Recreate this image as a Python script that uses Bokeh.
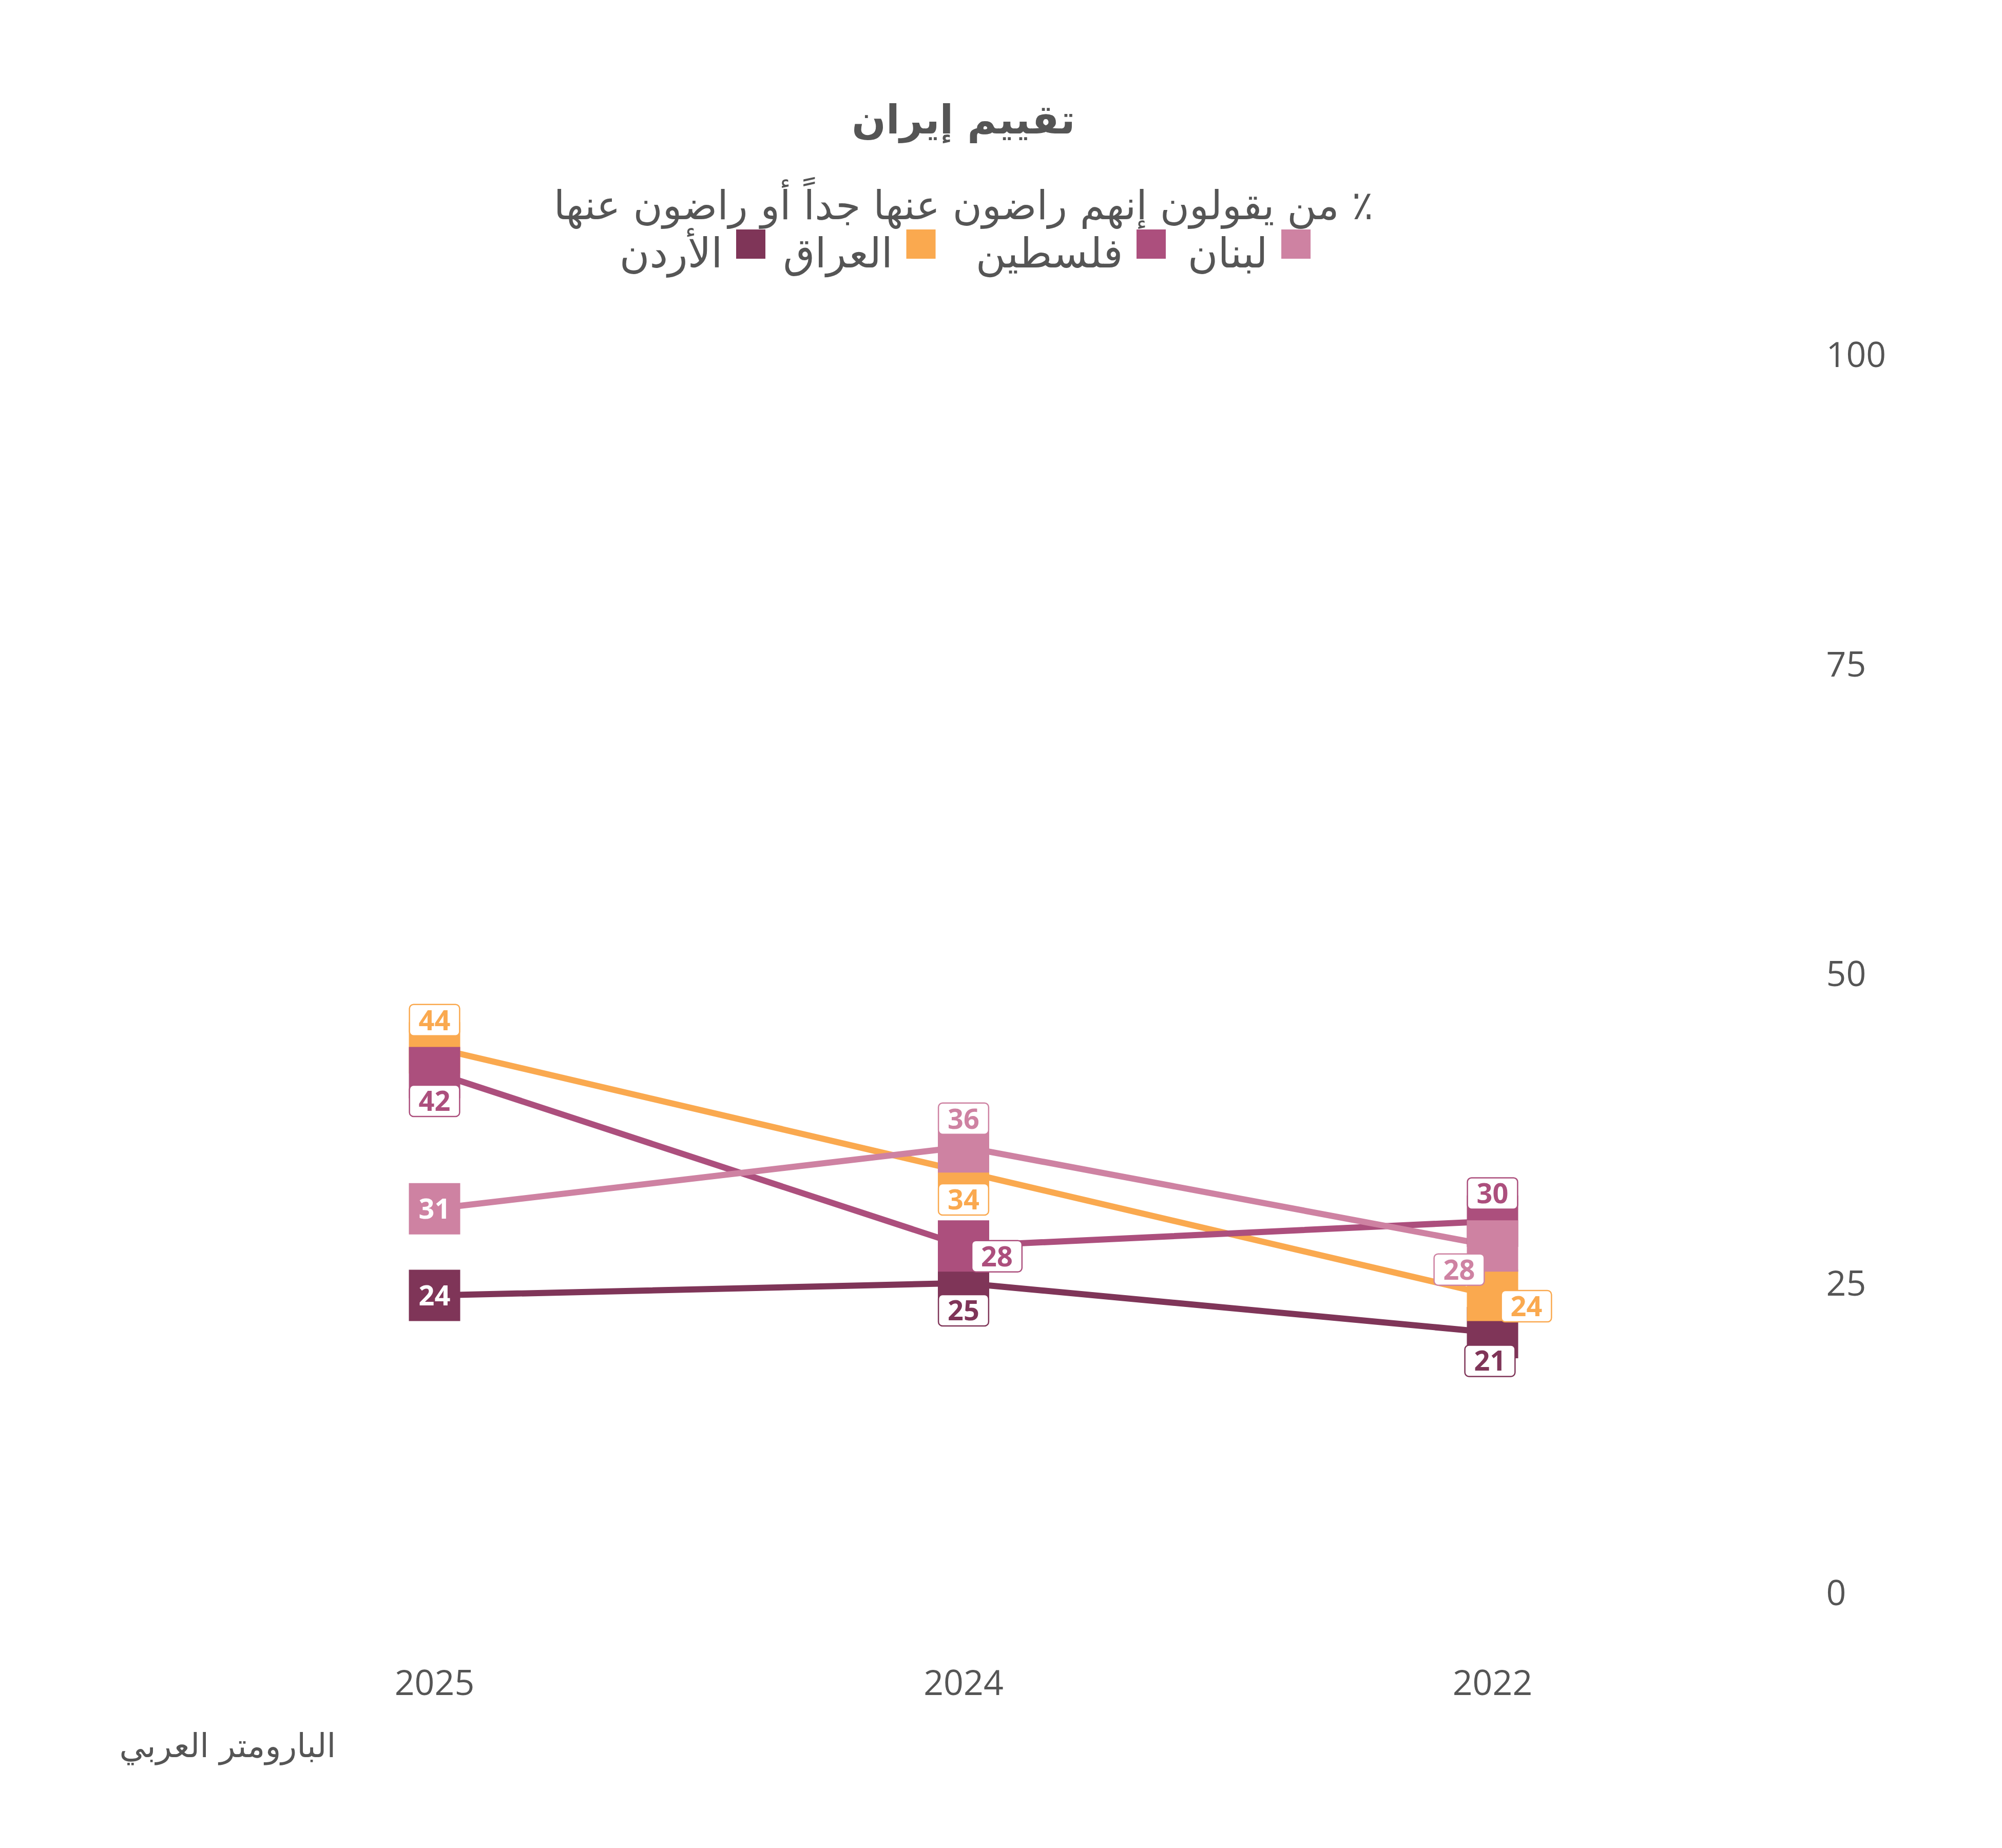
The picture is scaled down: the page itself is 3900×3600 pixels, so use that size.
from bokeh.plotting import figure
from bokeh.models import Range1d, FixedTicker, LinearAxis, Title, ColumnDataSource
from bokeh.core.properties import value
from bokeh.embed import file_html
from bokeh.resources import INLINE

# ---------------- data ----------------
years = ["2025", "2024", "2022"]
countries = ["الأردن", "العراق", "فلسطين", "لبنان"]
jordan = [24, 25, 21]
iraq = [44, 34, 24]
palestine = [42, 28, 30]
lebanon = [31, 36, 28]
y_ticks = [0, 25, 50, 75, 100]

title_text = "تقييم إيران"
subtitle_text = "\u200f٪ من يقولون إنهم راضون عنها جداً أو راضون عنها"
source_text = "البارومتر العربي"

# ---------------- styles ----------------
colors = ["#7F3558", "#FAA94F", "#AC4F7D", "#CE82A2"]
values_by_series = [jordan, iraq, palestine, lebanon]
# label placement (screen px offsets) and whether label sits inside the marker
label_dx = [[0, 0, -5], [0, 0, 66], [0, 65, 0], [0, 0, -65]]
label_dy = [[0, 53, 55], [-54, 54, 21], [55, 20, -54], [0, -55, 46]]
label_inside = [[True, False, False], [False, False, False],
                [False, False, False], [True, False, False]]
legend_pos = [0.5978, 0.9195, 1.3547, 1.6284]

GREY = "#555555"
AR_FONT = "DejaVu Sans"
NUM_FONT = "Open Sans"

W, H = 3884, 3584
p = figure(width=W, height=H, output_backend="svg", toolbar_location=None,
           x_range=Range1d(-0.82096, 2.57545), y_range=Range1d(-4.063, 128.607),
           min_border_left=0, min_border_top=0, min_border_right=384,
           min_border_bottom=384, x_axis_location=None, y_axis_location=None,
           background_fill_color="white", border_fill_color="white")
p.outline_line_color = None
p.grid.visible = False

xaxis = LinearAxis(ticker=FixedTicker(ticks=list(range(len(years)))),
                   major_label_overrides={i: y for i, y in enumerate(years)})
yaxis = LinearAxis(ticker=FixedTicker(ticks=y_ticks))
for ax in (xaxis, yaxis):
    ax.axis_line_color = None
    ax.major_tick_line_color = None
    ax.minor_tick_line_color = None
    ax.major_tick_out = 0
    ax.major_tick_in = 0
    ax.major_label_text_font = NUM_FONT
    ax.major_label_text_font_size = "68px"
    ax.major_label_text_color = GREY
xaxis.major_label_standoff = 52
yaxis.major_label_standoff = 57
p.add_layout(xaxis, "below")
p.add_layout(yaxis, "right")

src_title = Title(text=source_text, align="left", offset=232,
                  text_font=AR_FONT, text_font_size="64px",
                  text_font_style="normal", text_color=GREY, standoff=115)
p.add_layout(src_title, "below")

xs = list(range(len(years)))

# lines
for vals, c in zip(values_by_series, colors):
    p.line(xs, vals, line_color=c, line_width=12)

# square markers
for vals, c in zip(values_by_series, colors):
    p.scatter(xs, vals, marker="square", size=100, fill_color=c, line_color=None)

# data labels
box = dict(x=[], y=[], t=[], c=[], dx=[], dy=[])
ins = dict(x=[], y=[], t=[])
for s, (vals, c) in enumerate(zip(values_by_series, colors)):
    for i, v in enumerate(vals):
        if label_inside[s][i]:
            ins["x"].append(xs[i]); ins["y"].append(v); ins["t"].append(str(v))
        else:
            box["x"].append(xs[i]); box["y"].append(v); box["t"].append(str(v))
            box["c"].append(c); box["dx"].append(label_dx[s][i]); box["dy"].append(label_dy[s][i])

p.text(x="x", y="y", text="t", source=ColumnDataSource(box),
       x_offset="dx", y_offset="dy", text_color="c",
       text_font=value(NUM_FONT), text_font_style="bold", text_font_size="54px",
       text_align="center", text_baseline="middle",
       background_fill_color="white", border_line_color="c",
       border_line_width=2.5, border_radius=8, padding=(18, 11))
p.text(x="x", y="y", text="t", source=ColumnDataSource(ins),
       text_color="white", text_font=value(NUM_FONT), text_font_style="bold",
       text_font_size="54px", text_align="center", text_baseline="middle")

# title / subtitle
p.text(x=[1], y=[118.95], text=[title_text], text_font=value(AR_FONT),
       text_font_style="bold", text_font_size="78px", text_color=GREY,
       text_align="center", text_baseline="alphabetic")
p.text(x=[1], y=[112.06], text=[subtitle_text], text_font=value(AR_FONT),
       text_font_size="78px", text_color=GREY,
       text_align="center", text_baseline="alphabetic")

# legend (RTL: marker to the right of its label)
p.scatter(legend_pos, [108.91] * 4, marker="square", size=57,
          fill_color=colors, line_color=None)
p.text(x=legend_pos, y=[108.17] * 4, text=countries, x_offset=-55,
       text_font=value(AR_FONT), text_font_size="80px", text_color=GREY,
       text_align="right", text_baseline="alphabetic")

open("out.html", "w").write(file_html(p, INLINE))
